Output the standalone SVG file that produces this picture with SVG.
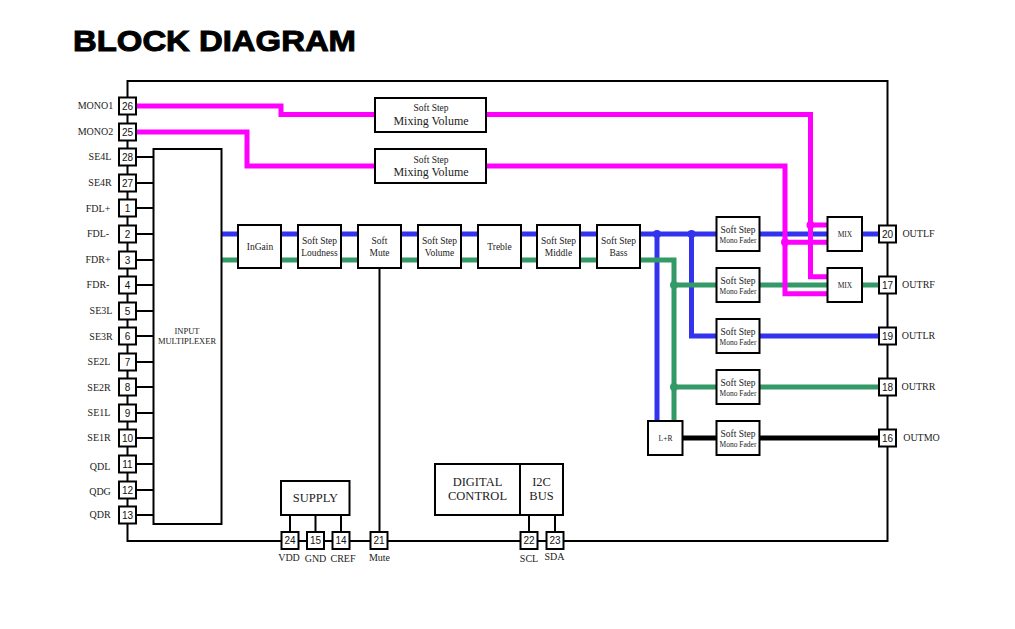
<svg xmlns="http://www.w3.org/2000/svg" width="1015" height="629" viewBox="0 0 1015 629">
<style>
text{font-family:"Liberation Serif","Times New Roman",serif;fill:#222;text-anchor:middle}
.box{fill:#fff;stroke:#000;stroke-width:2}
.pin{fill:#fff;stroke:#000;stroke-width:2}
.n{font-family:"Liberation Sans",Arial,sans-serif;font-size:10px;fill:#111}
.l{font-size:10px}
.b{font-size:9.5px}
.s{font-size:8.500px}
.m{font-size:12px}
.c{font-size:12.500px}
.t{font-size:7.500px}
.w{fill:none;stroke:#000;stroke-width:2}
.mg{fill:none;stroke:#ff00ff;stroke-width:5}
.bl{fill:none;stroke:#3333ee;stroke-width:5}
.gr{fill:none;stroke:#339966;stroke-width:5}
.bk{fill:none;stroke:#000;stroke-width:5}
.dm{fill:#ff00ff}.db{fill:#3333ee}.dg{fill:#339966}
</style>
<text id="title" x="73" y="51" style="font-family:'Liberation Sans',Arial,sans-serif;font-weight:bold;font-size:30px;fill:#000;text-anchor:start;stroke:#000;stroke-width:1" textLength="283" lengthAdjust="spacingAndGlyphs">BLOCK DIAGRAM</text>
<g id="connectors">
<rect class="w" x="127.500" y="81" width="760" height="460"/>
<path class="w" d="M136 157H154M136 183H154M136 208H154M136 234H154M136 260H154M136 285H154M136 311H154M136 336H154M136 362H154M136 387H154M136 413H154M136 438H154M136 464H154M136 490H154M136 515H154"/>
<path class="w" d="M290 515V532M315.500 515V532M341 515V532M379.500 268V532M529 515V532M555 515V532"/>
<path class="bl" d="M221 234H716M759 234H827M862 234H879"/>
<path class="bl" d="M657 234V421M691.500 234V336H716M759 336H879"/>
<path class="gr" d="M221 260H674V421M674 285H716M759 285H827M862 285H879M674 387H716M759 387H879"/>
<path class="bk" d="M682 438H879"/>
<path class="mg" d="M136 106H281V114.500H810.500V276.700H827M810.500 225H827"/>
<path class="mg" d="M136 132H247V166H785V293.700H827M785 242.300H827"/>
<circle class="db" cx="657" cy="234" r="4"/><circle class="db" cx="691.500" cy="234" r="4"/>
<circle class="dg" cx="674" cy="285" r="4"/><circle class="dg" cx="674" cy="387" r="4"/>
<circle class="dm" cx="810.500" cy="225" r="4"/><circle class="dm" cx="785" cy="242.300" r="4"/>
</g>
<g id="mux"><rect class="box" x="153.500" y="149" width="68" height="375"/><text class="s" x="187" y="334">INPUT</text><text class="s" x="187" y="344">MULTIPLEXER</text></g>
<g id="mixvol1"><rect class="box" x="375" y="98" width="111" height="34"/><text class="b" x="431" y="111">Soft Step</text><text class="m" x="431" y="125">Mixing Volume</text></g>
<g id="mixvol2"><rect class="box" x="375" y="149" width="111" height="34"/><text class="b" x="431" y="163">Soft Step</text><text class="m" x="431" y="176">Mixing Volume</text></g>
<g id="ingain"><rect class="box" x="238" y="225" width="43" height="43"/><text class="b" x="260" y="250">InGain</text></g>
<g id="loudness"><rect class="box" x="298" y="225" width="43" height="43"/><text class="b" x="319.500" y="244">Soft Step</text><text class="b" x="319.500" y="256">Loudness</text></g>
<g id="mute"><rect class="box" x="358" y="225" width="43" height="43"/><text class="b" x="379.500" y="244">Soft</text><text class="b" x="379.500" y="256">Mute</text></g>
<g id="volume"><rect class="box" x="418" y="225" width="43" height="43"/><text class="b" x="439.500" y="244">Soft Step</text><text class="b" x="439.500" y="256">Volume</text></g>
<g id="treble"><rect class="box" x="478" y="225" width="43" height="43"/><text class="b" x="499.500" y="250">Treble</text></g>
<g id="middle"><rect class="box" x="537" y="225" width="43" height="43"/><text class="b" x="558.500" y="244">Soft Step</text><text class="b" x="558.500" y="256">Middle</text></g>
<g id="bass"><rect class="box" x="597" y="225" width="43" height="43"/><text class="b" x="618.500" y="244">Soft Step</text><text class="b" x="618.500" y="256">Bass</text></g>
<g id="fader1"><rect class="box" x="716.500" y="217" width="43" height="34"/><text class="b" x="738" y="233">Soft Step</text><text class="t" x="738" y="243">Mono Fader</text></g>
<g id="fader2"><rect class="box" x="716.500" y="268" width="43" height="34"/><text class="b" x="738" y="284">Soft Step</text><text class="t" x="738" y="294">Mono Fader</text></g>
<g id="fader3"><rect class="box" x="716.500" y="319" width="43" height="34"/><text class="b" x="738" y="335">Soft Step</text><text class="t" x="738" y="345">Mono Fader</text></g>
<g id="fader4"><rect class="box" x="716.500" y="370" width="43" height="34"/><text class="b" x="738" y="386">Soft Step</text><text class="t" x="738" y="396">Mono Fader</text></g>
<g id="fader5"><rect class="box" x="716.500" y="421" width="43" height="34"/><text class="b" x="738" y="437">Soft Step</text><text class="t" x="738" y="447">Mono Fader</text></g>
<g id="mix1"><rect class="box" x="827.500" y="217" width="34.500" height="34"/><text class="t" x="845" y="237">MIX</text></g>
<g id="mix2"><rect class="box" x="827.500" y="268" width="34.500" height="34"/><text class="t" x="845" y="288">MIX</text></g>
<g id="lr"><rect class="box" x="648" y="421" width="34.500" height="34"/><text class="t" x="665.500" y="441">L+R</text></g>
<g id="supply"><rect class="box" x="281" y="481" width="68.500" height="34"/><text class="c" x="315.500" y="502">SUPPLY</text></g>
<g id="digital"><rect class="box" x="435" y="464" width="85" height="51"/><text class="c" x="477.500" y="486">DIGITAL</text><text class="c" x="477.500" y="500">CONTROL</text></g>
<g id="i2c"><rect class="box" x="520" y="464" width="43" height="51"/><text class="c" x="541.500" y="486">I2C</text><text class="c" x="541.500" y="500">BUS</text></g>
<g id="pin26"><rect class="pin" x="119" y="97.500" width="17" height="17"/><text class="n" x="127.500" y="110">26</text><text class="l" x="95.500" y="109">MONO1</text></g>
<g id="pin25"><rect class="pin" x="119" y="123.500" width="17" height="17"/><text class="n" x="127.500" y="136">25</text><text class="l" x="95.500" y="135">MONO2</text></g>
<g id="pin28"><rect class="pin" x="119" y="148.500" width="17" height="17"/><text class="n" x="127.500" y="161">28</text><text class="l" x="100" y="160">SE4L</text></g>
<g id="pin27"><rect class="pin" x="119" y="174.500" width="17" height="17"/><text class="n" x="127.500" y="187">27</text><text class="l" x="100" y="186">SE4R</text></g>
<g id="pin1"><rect class="pin" x="119" y="199.500" width="17" height="17"/><text class="n" x="127.500" y="212">1</text><text class="l" x="98" y="212">FDL+</text></g>
<g id="pin2"><rect class="pin" x="119" y="225.500" width="17" height="17"/><text class="n" x="127.500" y="238">2</text><text class="l" x="98" y="237">FDL-</text></g>
<g id="pin3"><rect class="pin" x="119" y="251.500" width="17" height="17"/><text class="n" x="127.500" y="264">3</text><text class="l" x="98" y="263">FDR+</text></g>
<g id="pin4"><rect class="pin" x="119" y="276.500" width="17" height="17"/><text class="n" x="127.500" y="289">4</text><text class="l" x="98" y="288">FDR-</text></g>
<g id="pin5"><rect class="pin" x="119" y="302.500" width="17" height="17"/><text class="n" x="127.500" y="315">5</text><text class="l" x="101" y="314">SE3L</text></g>
<g id="pin6"><rect class="pin" x="119" y="327.500" width="17" height="17"/><text class="n" x="127.500" y="340">6</text><text class="l" x="101" y="340">SE3R</text></g>
<g id="pin7"><rect class="pin" x="119" y="353.500" width="17" height="17"/><text class="n" x="127.500" y="366">7</text><text class="l" x="99" y="365">SE2L</text></g>
<g id="pin8"><rect class="pin" x="119" y="378.500" width="17" height="17"/><text class="n" x="127.500" y="391">8</text><text class="l" x="99" y="391">SE2R</text></g>
<g id="pin9"><rect class="pin" x="119" y="404.500" width="17" height="17"/><text class="n" x="127.500" y="417">9</text><text class="l" x="99" y="416">SE1L</text></g>
<g id="pin10"><rect class="pin" x="119" y="429.500" width="17" height="17"/><text class="n" x="127.500" y="442">10</text><text class="l" x="99" y="441">SE1R</text></g>
<g id="pin11"><rect class="pin" x="119" y="455.500" width="17" height="17"/><text class="n" x="127.500" y="468">11</text><text class="l" x="100" y="470">QDL</text></g>
<g id="pin12"><rect class="pin" x="119" y="481.500" width="17" height="17"/><text class="n" x="127.500" y="494">12</text><text class="l" x="100" y="495">QDG</text></g>
<g id="pin13"><rect class="pin" x="119" y="506.500" width="17" height="17"/><text class="n" x="127.500" y="519">13</text><text class="l" x="100" y="518">QDR</text></g>
<g id="pin20"><rect class="pin" x="879" y="225.500" width="17" height="17"/><text class="n" x="887.500" y="238">20</text><text class="l" x="918.500" y="237">OUTLF</text></g>
<g id="pin17"><rect class="pin" x="879" y="276.500" width="17" height="17"/><text class="n" x="887.500" y="289">17</text><text class="l" x="918.500" y="288">OUTRF</text></g>
<g id="pin19"><rect class="pin" x="879" y="327.500" width="17" height="17"/><text class="n" x="887.500" y="340">19</text><text class="l" x="918.500" y="339">OUTLR</text></g>
<g id="pin18"><rect class="pin" x="879" y="378.500" width="17" height="17"/><text class="n" x="887.500" y="391">18</text><text class="l" x="918.500" y="390">OUTRR</text></g>
<g id="pin16"><rect class="pin" x="879" y="429.500" width="17" height="17"/><text class="n" x="887.500" y="442">16</text><text class="l" x="921.500" y="441">OUTMO</text></g>
<g id="pin24"><rect class="pin" x="281.500" y="532" width="17" height="17"/><text class="n" x="290" y="544">24</text><text class="l" x="289" y="561">VDD</text></g>
<g id="pin15"><rect class="pin" x="307" y="532" width="17" height="17"/><text class="n" x="315.500" y="544">15</text><text class="l" x="315.500" y="562">GND</text></g>
<g id="pin14"><rect class="pin" x="332.500" y="532" width="17" height="17"/><text class="n" x="341" y="544">14</text><text class="l" x="343" y="562">CREF</text></g>
<g id="pin21"><rect class="pin" x="370.500" y="532" width="17" height="17"/><text class="n" x="379" y="544">21</text><text class="l" x="379.500" y="561">Mute</text></g>
<g id="pin22"><rect class="pin" x="520.500" y="532" width="17" height="17"/><text class="n" x="529" y="544">22</text><text class="l" x="529" y="562">SCL</text></g>
<g id="pin23"><rect class="pin" x="546.500" y="532" width="17" height="17"/><text class="n" x="555" y="544">23</text><text class="l" x="554.500" y="560">SDA</text></g>
</svg>
